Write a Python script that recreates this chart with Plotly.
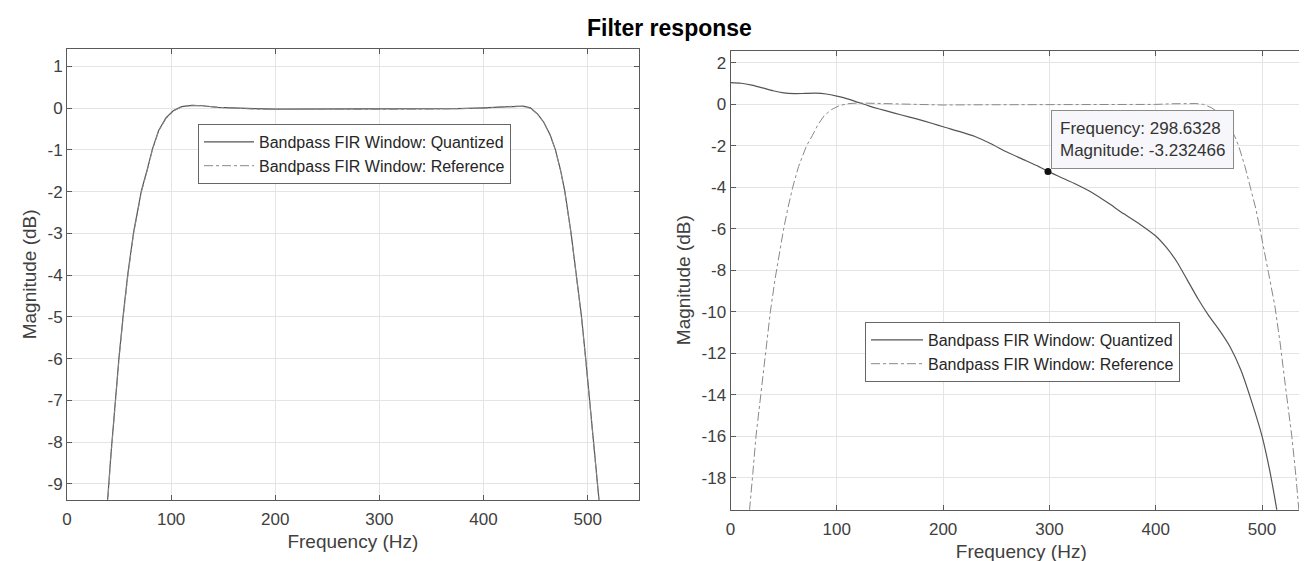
import plotly.graph_objects as go

# ---------------- data ----------------
freq_ref = [10, 14, 17.5, 21, 24, 28.5, 33, 37.5, 42, 46, 50, 54, 58.5, 64, 71.5, 77, 82, 88, 95, 102,
            110, 120, 130, 145, 160, 180, 200, 225, 250, 275, 300, 325, 350, 375, 400, 415, 430, 438,
            445, 452, 458, 464, 469, 474, 478, 484, 489, 494, 498, 502, 506, 512, 517, 523, 528, 532,
            535, 540]
mag_ref = [-30, -24, -19.8, -17.8, -16, -14, -12, -10, -8.4, -7.1, -6, -5, -4, -3, -2, -1.5, -1, -0.55,
           -0.25, -0.07, 0.03, 0.07, 0.06, 0.02, 0.0, -0.02, -0.03, -0.02, -0.02, -0.03, -0.03, -0.02,
           -0.02, -0.01, 0.0, 0.03, 0.05, 0.04, 0.0, -0.15, -0.35, -0.65, -1.0, -1.5, -2.0, -3.0, -4.0,
           -5.0, -6.0, -7.0, -8.1, -9.7, -11.5, -14, -16, -18, -19.8, -25]
mag_quant_left = [-30, -24, -19.7, -17.7, -15.9, -13.9, -11.9, -9.9, -8.35, -7.05, -5.95, -4.95, -3.95,
                  -2.96, -1.97, -1.47, -0.98, -0.53, -0.23, -0.06, 0.04, 0.07, 0.06, 0.02, 0.0, -0.01,
                  -0.02, -0.02, -0.01, -0.02, -0.02, -0.02, -0.01, -0.01, 0.01, 0.03, 0.05, 0.05, 0.01,
                  -0.14, -0.34, -0.64, -0.99, -1.49, -1.98, -2.98, -3.98, -4.98, -5.97, -6.97, -8.08,
                  -9.68, -11.48, -13.97, -15.97, -17.97, -19.77, -25]

freq_quant_right = [0, 10, 20, 30, 40, 50, 60, 70, 80, 90, 100, 110, 120, 130, 140, 150, 160, 175, 190,
                    200, 215, 230, 245, 260, 275, 290, 298.6328, 310, 325, 340, 355, 370, 385, 400, 410,
                    420, 430, 440, 450, 460, 470, 480, 490, 500, 507, 511, 515, 520]
mag_quant_right = [1.05, 1.02, 0.93, 0.80, 0.66, 0.56, 0.52, 0.53, 0.54, 0.50, 0.40, 0.27, 0.10, -0.07,
                   -0.22, -0.36, -0.50, -0.70, -0.92, -1.08, -1.30, -1.55, -1.90, -2.30, -2.65, -3.00,
                   -3.232466, -3.50, -3.85, -4.25, -4.75, -5.28, -5.78, -6.35, -6.90, -7.60, -8.50,
                   -9.40, -10.20, -10.90, -11.70, -12.80, -14.30, -16.0, -17.6, -18.7, -19.9, -21.5]

tip_freq = 298.6328
tip_mag = -3.232466

xticks = [0, 100, 200, 300, 400, 500]
yticks_left = [1, 0, -1, -2, -3, -4, -5, -6, -7, -8, -9]
yticks_right = [2, 0, -2, -4, -6, -8, -10, -12, -14, -16, -18]

name_q = "Bandpass FIR Window: Quantized"
name_r = "Bandpass FIR Window: Reference"

# ---------------- figure ----------------
W, H = 1307, 561
ML, MR, MT, MB = 59, 3, 41, 59
PW, PH = W - ML - MR, H - MT - MB
FONT = "Liberation Sans, Arial, Helvetica, sans-serif"
TXT = "#404040"
AX = "#5a5a5a"


def px_x(a, b):
    return [max(0.0, (a - ML) / PW), min(1.0, (b - ML) / PW)]


def px_y(top, bottom):
    return [max(0.0, 1 - (bottom - MT) / PH), min(1.0, 1 - (top - MT) / PH)]


def paper_x(px):
    return (px - ML) / PW


def paper_y(py):
    return 1 - (py - MT) / PH


fig = go.Figure()
fig.add_trace(go.Scatter(x=freq_ref, y=mag_quant_left, mode="lines", name=name_q,
                         line=dict(color="#555555", width=1.2), xaxis="x", yaxis="y", legend="legend"))
fig.add_trace(go.Scatter(x=freq_ref, y=mag_ref, mode="lines", name=name_r,
                         line=dict(color="#888888", width=1, dash="dashdot"), xaxis="x", yaxis="y",
                         legend="legend"))
fig.add_trace(go.Scatter(x=freq_quant_right, y=mag_quant_right, mode="lines", name=name_q,
                         line=dict(color="#555555", width=1.2, shape="spline", smoothing=0.6),
                         xaxis="x2", yaxis="y2", legend="legend2"))
fig.add_trace(go.Scatter(x=freq_ref, y=mag_ref, mode="lines", name=name_r,
                         line=dict(color="#888888", width=1, dash="dashdot"), xaxis="x2", yaxis="y2",
                         legend="legend2"))
fig.add_trace(go.Scatter(x=[tip_freq], y=[tip_mag], mode="markers", showlegend=False,
                         marker=dict(color="#111111", size=7), xaxis="x2", yaxis="y2"))


def axis(**kw):
    d = dict(showline=True, linecolor=AX, linewidth=1, mirror="ticks", ticks="inside", ticklen=5,
             tickcolor=AX, showgrid=True, gridcolor="#e4e4e4", gridwidth=1, zeroline=False,
             automargin=False, tickfont=dict(family=FONT, size=17, color=TXT))
    d.update(kw)
    return d


xtitle = dict(text="Frequency (Hz)", font=dict(family=FONT, size=19, color=TXT), standoff=6)
ytitle = dict(text="Magnitude (dB)", font=dict(family=FONT, size=19, color=TXT), standoff=5)

fig.update_layout(
    width=W, height=H, paper_bgcolor="white", plot_bgcolor="white",
    margin=dict(l=ML, r=MR, t=MT, b=MB),
    font=dict(family=FONT, color=TXT),
    xaxis=axis(domain=px_x(58.7, 630.7), range=[0, 549], tickvals=xticks, anchor="y",
               ticklabelstandoff=4, title=xtitle),
    yaxis=axis(domain=px_y(41, 491.7), range=[-9.38, 1.42], tickvals=yticks_left,
               ticktext=[str(v) for v in yticks_left], anchor="x", title=ytitle),
    xaxis2=axis(domain=px_x(722.5, 1304), range=[0, 547], tickvals=xticks, anchor="y2",
                ticklabelstandoff=4, title=xtitle),
    yaxis2=axis(domain=px_y(42.7, 501.7), range=[-19.55, 2.59], tickvals=yticks_right,
                ticktext=[str(v) for v in yticks_right], anchor="x2", title=ytitle),
    legend=dict(x=paper_x(190), y=paper_y(116), xanchor="left", yanchor="top", xref="paper",
                yref="paper", bgcolor="white", bordercolor="#666666", borderwidth=1, itemwidth=50,
                font=dict(family=FONT, size=16, color="#262626"), tracegroupgap=0),
    legend2=dict(x=paper_x(857), y=paper_y(314), xanchor="left", yanchor="top", xref="paper",
                 yref="paper", bgcolor="white", bordercolor="#666666", borderwidth=1, itemwidth=52,
                 font=dict(family=FONT, size=16, color="#262626"), tracegroupgap=0),
    annotations=[
        dict(text="<b>Filter response</b>", x=paper_x(661), y=paper_y(20), xref="paper", yref="paper",
             xanchor="center", yanchor="middle", showarrow=False,
             font=dict(family=FONT, size=23, color="#000000")),
        dict(text="Frequency: 298.6328<br>Magnitude: -3.232466", x=tip_freq, y=tip_mag, xref="x2",
             yref="y2", xanchor="left", yanchor="bottom", xshift=3, yshift=2, showarrow=False,
             align="left", bgcolor="#f7f7fb", bordercolor="#8a8a8a", borderwidth=1, borderpad=8,
             font=dict(family=FONT, size=17, color="#333333")),
    ],
)

fig.write_html("out.html")
